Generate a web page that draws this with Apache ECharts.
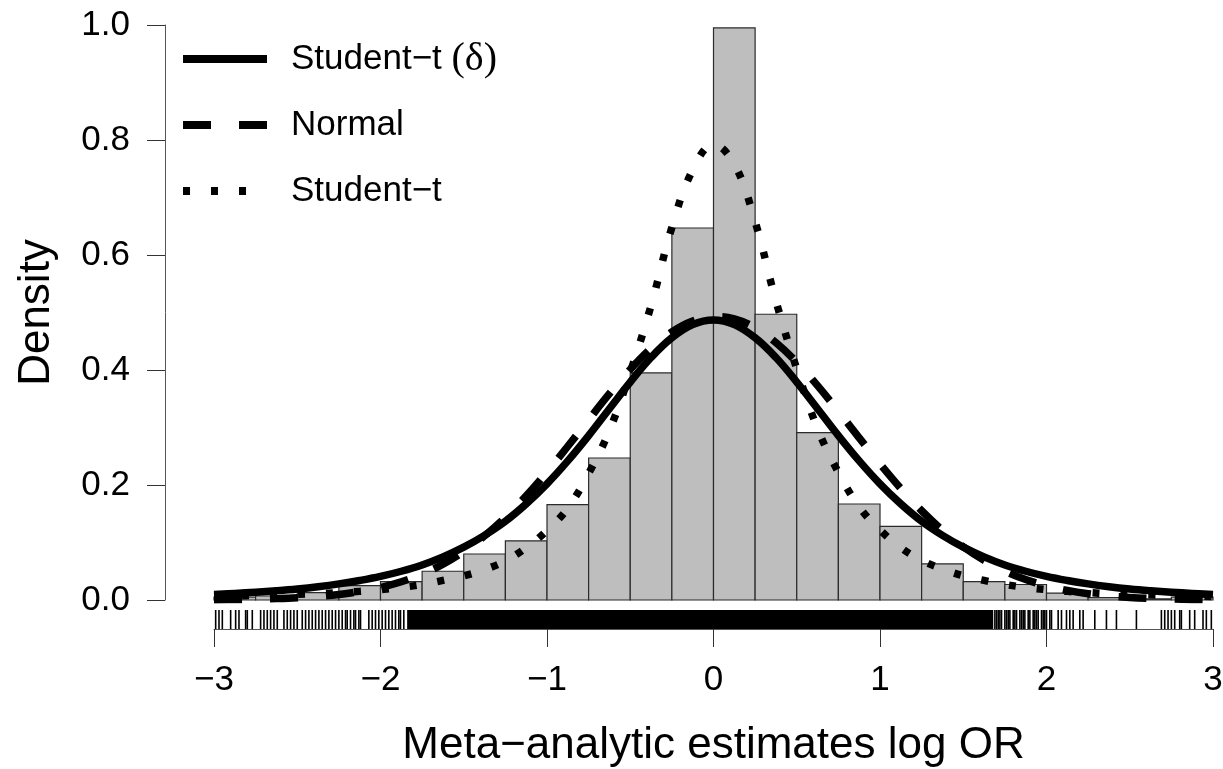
<!DOCTYPE html>
<html>
<head>
<meta charset="utf-8">
<script src="https://cdn.jsdelivr.net/npm/echarts@6/dist/echarts.min.js"></script>
<style>
  html, body { margin: 0; padding: 0; background: #ffffff; }
  #chart { width: 1223px; height: 769px; }
</style>
</head>
<body>
<div id="chart"></div>
<script>
// Histogram of meta-analytic log OR estimates (bin width 0.25), density scale
const binEdges = [-3, -2.75, -2.5, -2.25, -2, -1.75, -1.5, -1.25, -1, -0.75, -0.5, -0.25,
                  0, 0.25, 0.5, 0.75, 1, 1.25, 1.5, 1.75, 2, 2.25, 2.5, 2.75, 3];
const binDensity = [0.005, 0.007, 0.013, 0.025, 0.032, 0.050, 0.080, 0.103, 0.166, 0.247, 0.395, 0.647,
                    0.995, 0.497, 0.291, 0.167, 0.128, 0.063, 0.032, 0.027, 0.012, 0.004, 0.002, 0.005];

// Fitted densities evaluated on a common grid
const curveX = [-3, -2.875, -2.75, -2.625, -2.5, -2.375, -2.25, -2.125, -2, -1.875, -1.75, -1.625,
                -1.5, -1.375, -1.25, -1.125, -1, -0.875, -0.75, -0.625, -0.5, -0.375, -0.25, -0.125,
                0, 0.125, 0.25, 0.375, 0.5, 0.625, 0.75, 0.875, 1, 1.125, 1.25, 1.375,
                1.5, 1.625, 1.75, 1.875, 2, 2.125, 2.25, 2.375, 2.5, 2.625, 2.75, 2.875, 3];
const studentTDelta = [0.0097, 0.0114, 0.0136, 0.0162, 0.0193, 0.0232, 0.028, 0.0339, 0.041, 0.050, 0.061, 0.075,
                       0.092, 0.1125, 0.137, 0.1672, 0.2021, 0.242, 0.286, 0.3327, 0.379, 0.4217, 0.456, 0.479,
                       0.487, 0.479, 0.456, 0.4217, 0.379, 0.3327, 0.286, 0.242, 0.2021, 0.1672, 0.137, 0.1125,
                       0.092, 0.075, 0.061, 0.050, 0.041, 0.0339, 0.028, 0.0232, 0.0193, 0.0162, 0.0136, 0.0114, 0.0097];
const normalFit = [0.0005, 0.0008, 0.0014, 0.0024, 0.0039, 0.0062, 0.0096, 0.0147, 0.0218, 0.0317, 0.045, 0.0624,
                   0.0844, 0.1115, 0.1438, 0.1811, 0.2227, 0.2674, 0.3134, 0.3588, 0.401, 0.4376, 0.4663, 0.4852,
                   0.4928, 0.4889, 0.4735, 0.4477, 0.4134, 0.3728, 0.3281, 0.282, 0.2367, 0.194, 0.1552, 0.1213,
                   0.0925, 0.0689, 0.0501, 0.0356, 0.0247, 0.0167, 0.011, 0.0071, 0.0045, 0.0028, 0.0017, 0.001, 0.0006];
const studentT = [0.006, 0.007, 0.008, 0.009, 0.010, 0.011, 0.013, 0.015, 0.018, 0.022, 0.027, 0.034,
                  0.042, 0.053, 0.068, 0.091, 0.121, 0.160, 0.220, 0.295, 0.396, 0.512, 0.648, 0.748,
                  0.792, 0.758, 0.658, 0.520, 0.402, 0.298, 0.222, 0.162, 0.122, 0.091, 0.069, 0.054,
                  0.042, 0.034, 0.027, 0.022, 0.018, 0.015, 0.013, 0.011, 0.010, 0.009, 0.008, 0.007, 0.006];

// Rug: individual estimates in the tails, and the span where ticks merge into a solid band
const rugTicks = [-2.99, -2.97, -2.95, -2.90, -2.87, -2.85, -2.81, -2.80, -2.77,
                  -2.72, -2.70, -2.68, -2.66, -2.64, -2.62, -2.58, -2.56, -2.54, -2.52, -2.50,
                  -2.47, -2.45, -2.43, -2.41, -2.39, -2.37, -2.35, -2.33, -2.31, -2.29,
                  -2.27, -2.25, -2.23, -2.21, -2.20, -2.18, -2.16, -2.15, -2.13, -2.12,
                  -2.07, -2.05, -2.03, -2.01, -1.99, -1.97, -1.95, -1.93, -1.91, -1.89, -1.88, -1.86,
                  1.69, 1.70, 1.71, 1.72, 1.73, 1.75, 1.76, 1.77, 1.78, 1.80, 1.81, 1.82, 1.84, 1.85,
                  1.86, 1.87, 1.89, 1.90, 1.92, 1.93, 1.94, 1.95, 1.97, 1.98, 1.99, 2.00, 2.02, 2.03,
                  2.07, 2.09, 2.12, 2.14, 2.16, 2.20, 2.22, 2.29, 2.36, 2.42, 2.54,
                  2.69, 2.71, 2.73, 2.75, 2.77, 2.80, 2.81, 2.86, 2.89, 2.94, 2.96, 2.99];
const rugSolidRanges = [[-1.84, 1.68]];

const seriesNames = ['Student\u2212t (\u03b4)', 'Normal', 'Student\u2212t'];
const xTitle = 'Meta\u2212analytic estimates log OR';
const yTitle = 'Density';

const FONT = '"Liberation Sans", Arial, "DejaVu Sans", sans-serif';
const AXIS_COLOR = '#555555';
const CURVE_WIDTH = 7.5;

const chart = echarts.init(document.getElementById('chart'), null, { renderer: 'canvas' });

const binData = binDensity.map((d, i) => [binEdges[i], binEdges[i + 1], d]);
const toPairs = arr => curveX.map((x, i) => [x, arr[i]]);

function curveSeries(name, values, dash) {
  return {
    name: name,
    type: 'line',
    data: toPairs(values),
    symbol: 'none',
    showSymbol: false,
    smooth: 0.4,
    z: 5,
    color: '#000000',
    itemStyle: { color: '#000000', opacity: 0 },
    lineStyle: { color: '#000000', width: CURVE_WIDTH, type: dash, cap: 'butt', join: 'round' },
    emphasis: { disabled: true },
    animation: false
  };
}

const option = {
  backgroundColor: '#ffffff',
  animation: false,
  textStyle: { fontFamily: FONT, color: '#000000' },
  grid: { left: 214, right: 10, top: 25, bottom: 169, outerBoundsMode: 'none' },
  legend: {
    data: seriesNames,
    orient: 'vertical',
    left: 179,
    top: 37,
    padding: 0,
    itemWidth: 84,
    itemHeight: 16,
    itemGap: 22,
    selectedMode: false,
    itemStyle: { opacity: 0 },
    lineStyle: { width: 8, color: '#000000', cap: 'butt' },
    formatter: name => name.replace('(\u03b4)', '{s|(\u03b4)}'),
    textStyle: {
      fontFamily: FONT, fontSize: 35, color: '#000000', lineHeight: 44,
      padding: [0, 0, 0, 19],
      rich: { s: { fontFamily: '"Liberation Serif", "DejaVu Serif", serif', fontSize: 40, color: '#000000' } }
    }
  },
  xAxis: {
    type: 'value',
    min: -3, max: 3, interval: 1,
    offset: 29,
    name: xTitle,
    nameLocation: 'middle',
    nameGap: 95,
    nameTextStyle: { fontFamily: FONT, fontSize: 44, color: '#000000' },
    axisLine: { show: true, onZero: false, lineStyle: { color: AXIS_COLOR, width: 1 } },
    axisTick: { show: true, length: 18, lineStyle: { color: '#333333', width: 1 } },
    axisLabel: {
      margin: 34, fontSize: 35, color: '#000000', fontFamily: FONT,
      formatter: v => String(v).replace('-', '\u2212')
    },
    splitLine: { show: false }
  },
  yAxis: {
    type: 'value',
    min: 0, max: 1, interval: 0.2,
    offset: 49,
    name: yTitle,
    nameLocation: 'middle',
    nameGap: 106,
    nameTextStyle: { fontFamily: FONT, fontSize: 44, color: '#000000' },
    axisLine: { show: true, onZero: false, lineStyle: { color: AXIS_COLOR, width: 1 } },
    axisTick: { show: true, length: 18, lineStyle: { color: '#333333', width: 1 } },
    axisLabel: {
      margin: 35, fontSize: 35, color: '#000000', fontFamily: FONT,
      formatter: v => v.toFixed(1)
    },
    splitLine: { show: false }
  },
  series: [
    {
      name: 'histogram',
      type: 'custom',
      data: binData,
      encode: { x: [0, 1], y: 2 },
      z: 1,
      silent: true,
      renderItem: (params, api) => {
        const p0 = api.coord([api.value(0), 0]);
        const p1 = api.coord([api.value(1), api.value(2)]);
        return {
          type: 'rect',
          shape: { x: p0[0], y: p1[1], width: p1[0] - p0[0], height: p0[1] - p1[1] },
          style: { fill: '#bebebe', stroke: '#2b2b2b', lineWidth: 1.2 }
        };
      }
    },
    {
      name: 'rugBand',
      type: 'custom',
      data: rugSolidRanges.map(r => [r[0], r[1], 0]),
      encode: { x: [0, 1], y: 2 },
      z: 2,
      silent: true,
      clip: false,
      renderItem: (params, api) => {
        const a = api.coord([api.value(0), 0]);
        const b = api.coord([api.value(1), 0]);
        return {
          type: 'rect',
          shape: { x: a[0], y: a[1] + 10, width: b[0] - a[0], height: 19 },
          style: { fill: '#000000' }
        };
      }
    },
    {
      name: 'rug',
      type: 'custom',
      data: rugTicks.map(v => [v, 0]),
      encode: { x: 0, y: 1 },
      z: 2,
      silent: true,
      clip: false,
      renderItem: (params, api) => {
        const p = api.coord([api.value(0), 0]);
        return {
          type: 'rect',
          shape: { x: p[0] - 0.8, y: p[1] + 10, width: 1.6, height: 19 },
          style: { fill: '#000000' }
        };
      }
    },
    curveSeries(seriesNames[0], studentTDelta, 'solid'),
    curveSeries(seriesNames[1], normalFit, [28, 28]),
    curveSeries(seriesNames[2], studentT, [7, 21])
  ]
};

chart.setOption(option);
</script>
</body>
</html>
